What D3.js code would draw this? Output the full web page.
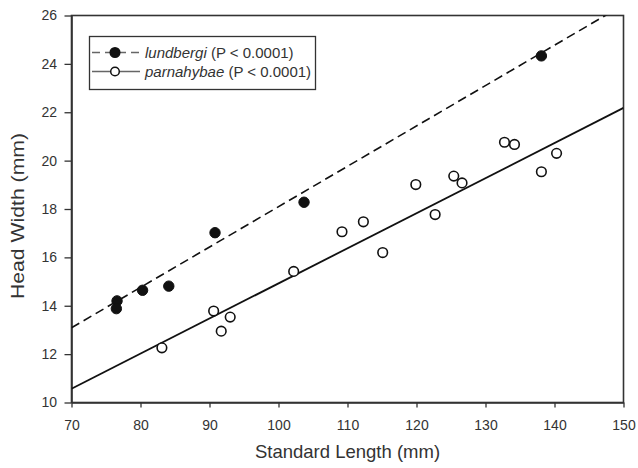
<!DOCTYPE html>
<html>
<head>
<meta charset="utf-8">
<script src="https://cdn.jsdelivr.net/npm/d3@7"></script>
<style>
  html, body { margin: 0; padding: 0; background: #fff; }
  svg { display: block; font-family: "Liberation Sans", Arial, sans-serif; }
</style>
</head>
<body>
<svg id="chart" width="638" height="468"></svg>
<script>
// ---- Data ----
const lundbergiX = [76.6, 76.5, 80.3, 84.1, 90.8, 103.7, 138.1];
const lundbergiY = [14.2, 13.88, 14.64, 14.81, 17.02, 18.28, 24.33];
const parnahybaeX = [83.1, 90.6, 91.7, 93.0, 102.2, 109.2, 112.3, 115.1, 119.9, 122.7, 125.4, 126.6, 132.75, 134.2, 138.1, 140.3];
const parnahybaeY = [12.26, 13.78, 12.95, 13.53, 15.42, 17.06, 17.47, 16.2, 19.01, 17.77, 19.36, 19.08, 20.76, 20.67, 19.54, 20.3];
// regression lines (endpoints)
const lundbergiFitX = [70, 150];
const lundbergiFitY = [13.09, 26.44];
const parnahybaeFitX = [70, 150];
const parnahybaeFitY = [10.57, 22.18];
const xTicks = [70, 80, 90, 100, 110, 120, 130, 140, 150];
const yTicks = [10, 12, 14, 16, 18, 20, 22, 24, 26];
const legendLabels = ["lundbergi", "parnahybae"];
const legendSuffix = " (P < 0.0001)";

// ---- Layout ----
const svg = d3.select("#chart");
const pL = 71.5, pR = 623.5, pT = 15.5, pB = 402.5;
const x = d3.scaleLinear().domain([70, 150]).range([pL, pR]);
const y = d3.scaleLinear().domain([10, 26]).range([pB, pT]);
const axisColor = "#333";
const textColor = "#333";

svg.append("defs").append("clipPath").attr("id", "plotclip")
  .append("rect").attr("x", pL).attr("y", pT)
  .attr("width", pR - pL).attr("height", pB - pT);

// frame
svg.append("rect").attr("x", pL).attr("y", pT)
  .attr("width", pR - pL).attr("height", pB - pT)
  .attr("fill", "none").attr("stroke", axisColor).attr("stroke-width", 1.6);

// axes
const xAxis = svg.append("g").attr("transform", `translate(0,${pB})`)
  .call(d3.axisBottom(x).tickValues(xTicks).tickSize(5).tickSizeOuter(0));
const yAxis = svg.append("g").attr("transform", `translate(${pL},0)`)
  .call(d3.axisLeft(y).tickValues(yTicks).tickSize(7).tickSizeOuter(0));
[xAxis, yAxis].forEach(g => {
  g.select(".domain").attr("stroke", axisColor).attr("stroke-width", 1.6);
  g.selectAll(".tick line").attr("stroke", axisColor).attr("stroke-width", 1.3);
  g.selectAll(".tick text").attr("fill", textColor)
    .style("font-size", "14px").style("font-family", "'Liberation Sans', Arial, sans-serif");
});
xAxis.selectAll(".tick text").attr("y", 27.5).attr("dy", 0);
yAxis.selectAll(".tick text").attr("x", -14.5);

// axis titles
svg.append("text").attr("x", (pL + pR) / 2).attr("y", 458)
  .attr("text-anchor", "middle").attr("fill", textColor)
  .style("font-size", "18.5px").text("Standard Length (mm)");
svg.append("text").attr("transform", `translate(24,${(pT + pB) / 2 + 7}) rotate(-90)`)
  .attr("text-anchor", "middle").attr("fill", textColor)
  .attr("textLength", 166).attr("lengthAdjust", "spacingAndGlyphs")
  .style("font-size", "18.5px").text("Head Width (mm)");

// regression lines
const line = d3.line().x(d => x(d[0])).y(d => y(d[1]));
const plot = svg.append("g").attr("clip-path", "url(#plotclip)");
plot.append("path").datum(d3.zip(lundbergiFitX, lundbergiFitY)).attr("d", line)
  .attr("fill", "none").attr("stroke", "#111").attr("stroke-width", 1.6)
  .attr("stroke-dasharray", "9,5");
plot.append("path").datum(d3.zip(parnahybaeFitX, parnahybaeFitY)).attr("d", line)
  .attr("fill", "none").attr("stroke", "#111").attr("stroke-width", 1.8);

// points
svg.append("g").selectAll("circle").data(d3.zip(parnahybaeX, parnahybaeY)).join("circle")
  .attr("cx", d => x(d[0])).attr("cy", d => y(d[1])).attr("r", 4.8)
  .attr("fill", "#fff").attr("stroke", "#111").attr("stroke-width", 1.6);
svg.append("g").selectAll("circle").data(d3.zip(lundbergiX, lundbergiY)).join("circle")
  .attr("cx", d => x(d[0])).attr("cy", d => y(d[1])).attr("r", 5.2)
  .attr("fill", "#111").attr("stroke", "#111").attr("stroke-width", 1);

// legend
const lg = svg.append("g");
lg.append("rect").attr("x", 89.5).attr("y", 36.5).attr("width", 226).attr("height", 53)
  .attr("fill", "#fff").attr("stroke", axisColor).attr("stroke-width", 1.3);
const rows = [52.5, 71.5];
legendLabels.forEach((lab, i) => {
  const ry = rows[i];
  lg.append("line").attr("x1", 92).attr("x2", 140).attr("y1", ry).attr("y2", ry)
    .attr("stroke", "#666").attr("stroke-width", 1.3)
    .attr("stroke-dasharray", i === 0 ? "8,5" : null);
  lg.append("circle").attr("cx", 115).attr("cy", ry).attr("r", i === 0 ? 4.8 : 4.3)
    .attr("fill", i === 0 ? "#111" : "#fff").attr("stroke", "#111").attr("stroke-width", 1.5);
  const t = lg.append("text").attr("x", 145).attr("y", ry + 5).attr("fill", textColor)
    .style("font-size", "15px");
  t.append("tspan").style("font-style", "italic").text(lab);
  t.append("tspan").text(legendSuffix);
});
</script>
</body>
</html>
